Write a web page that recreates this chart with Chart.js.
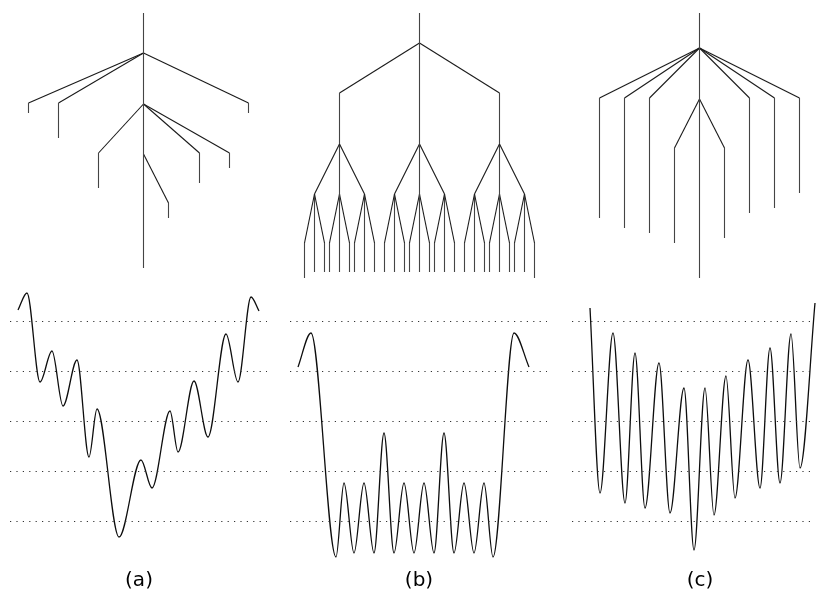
<!DOCTYPE html>
<html>
<head>
<meta charset="utf-8">
<script src="https://cdn.jsdelivr.net/npm/chart.js@4/dist/chart.umd.min.js"></script>
<style>
  html, body { margin: 0; padding: 0; background: #fff; }
  #wrap { width: 819px; height: 590px; }
</style>
</head>
<body>
<div id="wrap"><canvas id="fig" width="819" height="590"></canvas></div>
<script>
// figure space: x 0..819, y 0..590 (y grows downward)

// tree (a): trunk + side branches, each branch is a polyline
const treeA = [
  [[143.5, 13], [143.5, 268]],
  [[143.5, 53], [28.5, 103], [28.5, 113]],
  [[143.5, 53], [58.5, 103], [58.5, 138]],
  [[143.5, 53], [248.5, 103], [248.5, 113]],
  [[143.5, 104], [98.5, 153], [98.5, 188]],
  [[143.5, 104], [199.5, 153], [199.5, 183]],
  [[143.5, 104], [229.5, 153], [229.5, 168]],
  [[143.5, 154], [168.5, 203], [168.5, 218]]
];

// tree (b): 3 x 3 x 3 branching
const treeB = [
  [[419.5, 13], [419.5, 272]],
  [[419.5, 43], [339.5, 93], [339.5, 144]],
  [[419.5, 43], [499.5, 93], [499.5, 144]],
  [[339.5, 144], [314.5, 194]], [[339.5, 144], [339.5, 272]], [[339.5, 144], [364.5, 194]],
  [[419.5, 144], [394.5, 194]], [[419.5, 144], [444.5, 194]],
  [[499.5, 144], [474.5, 194]], [[499.5, 144], [499.5, 272]], [[499.5, 144], [524.5, 194]],
  [[314.5, 194], [304.5, 243], [304.5, 278]], [[314.5, 194], [314.5, 272]], [[314.5, 194], [324.5, 243], [324.5, 272]],
  [[339.5, 194], [329.5, 243], [329.5, 272]], [[339.5, 194], [349.5, 243], [349.5, 272]],
  [[364.5, 194], [354.5, 243], [354.5, 272]], [[364.5, 194], [364.5, 272]], [[364.5, 194], [374.5, 243], [374.5, 272]],
  [[394.5, 194], [384.5, 243], [384.5, 272]], [[394.5, 194], [394.5, 272]], [[394.5, 194], [404.5, 243], [404.5, 272]],
  [[419.5, 194], [409.5, 243], [409.5, 272]], [[419.5, 194], [429.5, 243], [429.5, 272]],
  [[444.5, 194], [434.5, 243], [434.5, 272]], [[444.5, 194], [444.5, 272]], [[444.5, 194], [454.5, 243], [454.5, 272]],
  [[474.5, 194], [464.5, 243], [464.5, 272]], [[474.5, 194], [474.5, 272]], [[474.5, 194], [484.5, 243], [484.5, 272]],
  [[499.5, 194], [489.5, 243], [489.5, 272]], [[499.5, 194], [509.5, 243], [509.5, 272]],
  [[524.5, 194], [514.5, 243], [514.5, 272]], [[524.5, 194], [524.5, 272]], [[524.5, 194], [534.5, 243], [534.5, 278]]
];

// tree (c): wide fan from the top node, narrow fork below
const treeC = [
  [[699.5, 13], [699.5, 278]],
  [[699.5, 48], [599.5, 98], [599.5, 218]],
  [[699.5, 48], [624.5, 98], [624.5, 228]],
  [[699.5, 48], [649.5, 98], [649.5, 233]],
  [[699.5, 48], [749.5, 98], [749.5, 213]],
  [[699.5, 48], [774.5, 98], [774.5, 208]],
  [[699.5, 48], [799.5, 98], [799.5, 193]],
  [[699.5, 99], [674.5, 148], [674.5, 243]],
  [[699.5, 99], [724.5, 148], [724.5, 238]]
];

// curves: start, peaks/troughs, end
const curveA = [
  [18, 310], [27, 293], [40, 382], [52, 351], [63, 406], [77, 360], [89, 457],
  [97, 409], [119, 537], [141, 460], [152, 488], [170, 411], [178, 452],
  [194, 381], [208, 437], [226, 334], [238, 382], [251, 297], [259, 311]
];
const curveB = [
  [298, 367], [311, 333], [336, 557], [344, 483], [354, 553], [364, 483],
  [374, 553], [384, 433], [394, 553], [404, 483], [414, 553], [424, 483],
  [434, 553], [444, 433], [454, 553], [464, 483], [474, 553], [484, 483],
  [493, 557], [514, 333], [529, 367]
];
const curveC = [
  [590, 308], [600, 493], [613, 333], [625, 503], [635, 353], [645, 508],
  [659, 363], [670, 513], [684, 388], [694, 550], [705, 388], [714, 515],
  [726, 376], [735, 498], [748, 360], [760, 488], [770, 348], [780, 483],
  [791, 334], [800, 468], [815, 303]
];

// dotted reference levels and the x span of each panel
const levels = [321.5, 371.5, 421.5, 471.5, 521.5];
const panelSpans = [[10, 267], [290, 547], [572, 815]];

const panelLabels = ['(a)', '(b)', '(c)'];
const labelX = [139, 419, 700];
const labelY = 586;

const toPts = arr => arr.map(p => ({ x: p[0], y: p[1] }));

// vertical stems render crisp, so draw them a bit lighter than the slanted ones
const stemColor = c => (c.p0.parsed.x === c.p1.parsed.x ? '#444' : '#1a1a1a');

const datasets = [];

panelSpans.forEach(span => {
  levels.forEach(lv => {
    datasets.push({
      data: [{ x: span[0], y: lv }, { x: span[1], y: lv }],
      borderColor: '#333',
      borderWidth: 1.2,
      borderDash: [1.2, 5.2]
    });
  });
});

[treeA, treeB, treeC].forEach(tree => {
  tree.forEach(branch => {
    datasets.push({
      data: toPts(branch),
      borderColor: '#1a1a1a',
      borderWidth: 1.1,
      tension: 0,
      segment: { borderColor: stemColor }
    });
  });
});

[curveA, curveB, curveC].forEach(curve => {
  datasets.push({
    data: toPts(curve),
    borderColor: '#0d0d0d',
    borderWidth: 1.3,
    cubicInterpolationMode: 'monotone'
  });
});

// panel captions under the curves
const captionPlugin = {
  id: 'captions',
  afterDraw(chart) {
    const ctx = chart.ctx;
    const xs = chart.scales.x, ys = chart.scales.y;
    ctx.save();
    ctx.fillStyle = '#000';
    ctx.font = '20px "DejaVu Sans"';
    ctx.textAlign = 'center';
    ctx.textBaseline = 'alphabetic';
    panelLabels.forEach((t, i) => {
      ctx.fillText(t, xs.getPixelForValue(labelX[i]), ys.getPixelForValue(labelY));
    });
    ctx.restore();
  }
};

new Chart(document.getElementById('fig'), {
  type: 'scatter',
  data: { datasets },
  options: {
    responsive: false,
    animation: false,
    devicePixelRatio: 1,
    layout: { padding: 0 },
    showLine: true,
    elements: {
      point: { radius: 0, hoverRadius: 0 },
      line: { fill: false, borderCapStyle: 'butt' }
    },
    plugins: {
      legend: { display: false },
      tooltip: { enabled: false }
    },
    scales: {
      x: { type: 'linear', min: 0, max: 819, display: false },
      y: { type: 'linear', min: 0, max: 590, reverse: true, display: false }
    }
  },
  plugins: [captionPlugin]
});
</script>
</body>
</html>
